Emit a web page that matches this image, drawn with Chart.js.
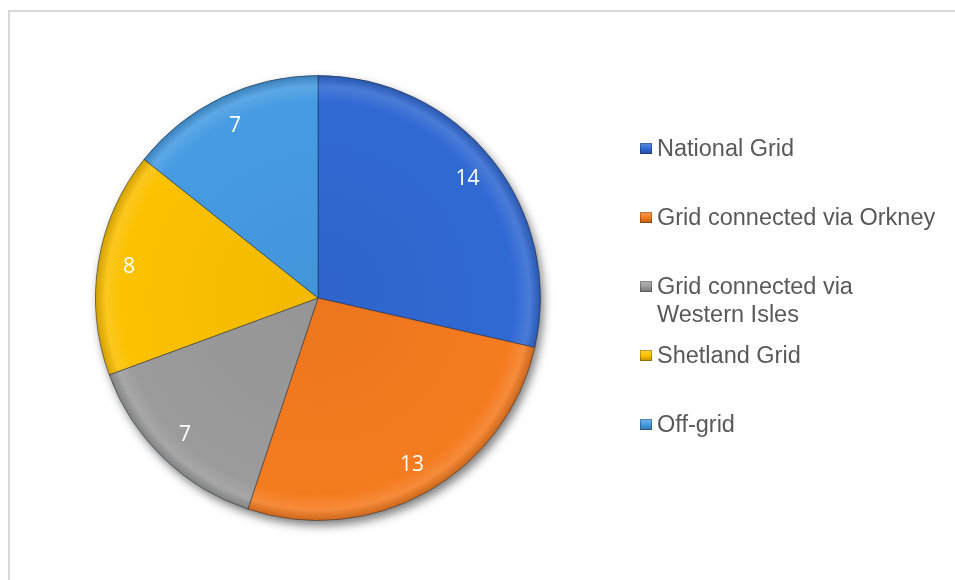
<!DOCTYPE html>
<html>
<head>
<meta charset="utf-8">
<script src="https://cdn.jsdelivr.net/npm/chart.js@4.4.1/dist/chart.umd.min.js"></script>
<style>
  html, body { margin:0; padding:0; background:#fff; }
  #wrap { position:relative; width:955px; height:580px; overflow:hidden; }
  #frame { position:absolute; left:8px; top:10px; width:960px; height:600px;
           border-left:2px solid #d9d9d9; border-top:2px solid #d9d9d9; box-sizing:border-box; }
  #pie { position:absolute; left:0; top:0; }
  #legend { position:absolute; left:640px; top:0; font-family:Arial, "Liberation Sans", Helvetica, sans-serif;
            font-size:23.5px; color:#595959; }
  .leg-item { position:absolute; left:0; display:flex; align-items:flex-start; white-space:nowrap; }
  .leg-mark { width:12px; height:11px; margin-top:9px; margin-right:5px; flex:none;
              box-shadow: inset 0 0 0 1px rgba(0,0,0,0.25); }
  .leg-text { line-height:28px; white-space:normal; width:284px; }
</style>
</head>
<body>
<div id="wrap">
  <div id="frame"></div>
  <canvas id="pie" width="955" height="580"></canvas>
  <div id="legend"></div>
</div>
<script>
/* Grid connection of sites — pie with Excel-like bevel and shadow */

const LABELS = ['National Grid', 'Grid connected via Orkney', 'Grid connected via Western Isles', 'Shetland Grid', 'Off-grid'];
const VALUES = [14, 13, 7, 8, 7];
const COLORS = ['#3169d3', '#f57b1f', '#9b9b9b', '#fcc100', '#469be2'];

function shade(hex, amt){
  const n = parseInt(hex.slice(1), 16);
  let r = (n >> 16) & 255, g = (n >> 8) & 255, b = n & 255;
  const f = v => Math.max(0, Math.min(255, Math.round(amt > 0 ? v + (255 - v) * amt : v * (1 + amt))));
  return `rgb(${f(r)},${f(g)},${f(b)})`;
}

function sliceFill(ctx){
  const chart = ctx.chart;
  const area = chart.chartArea;
  const base = COLORS[ctx.dataIndex];
  if(!area) return base;
  const cx = (area.left + area.right) / 2, cy = (area.top + area.bottom) / 2;
  const r = Math.min(area.right - area.left, area.bottom - area.top) / 2;
  const g = chart.ctx.createRadialGradient(cx, cy, 0, cx, cy, r);
  g.addColorStop(0, shade(base, -0.04));
  g.addColorStop(0.88, base);
  g.addColorStop(0.95, shade(base, 0.12));
  g.addColorStop(1, shade(base, -0.18));
  return g;
}

const shadowPlugin = {
  id:'shadow',
  beforeDatasetsDraw(chart){
    const arc = chart.getDatasetMeta(0).data[0];
    if(!arc) return;
    const {x, y, outerRadius} = arc.getProps(['x','y','outerRadius'], true);
    const c = chart.ctx;
    c.save();
    c.shadowColor = 'rgba(0,0,0,0.5)';
    c.shadowBlur = 10;
    c.shadowOffsetX = 3;
    c.shadowOffsetY = 5;
    c.fillStyle = '#888';
    c.beginPath();
    c.arc(x, y, outerRadius, 0, Math.PI * 2);
    c.fill();
    c.restore();
  }
};

const valueLabels = {
  id:'valueLabels',
  afterDatasetsDraw(chart){
    const c = chart.ctx;
    const meta = chart.getDatasetMeta(0);
    c.save();
    c.fillStyle = '#ffffff';
    c.font = '21px "Open Sans", "Liberation Sans", sans-serif';
    c.textAlign = 'center';
    c.textBaseline = 'middle';
    meta.data.forEach((arc, i) => {
      const p = arc.getProps(['x','y','startAngle','endAngle','outerRadius'], true);
      const mid = (p.startAngle + p.endAngle) / 2;
      const d = p.outerRadius * 0.86;
      c.fillText(String(VALUES[i]), p.x + Math.cos(mid) * d, p.y + Math.sin(mid) * d);
    });
    c.restore();
  }
};

new Chart(document.getElementById('pie'), {
  type:'pie',
  data:{
    labels:LABELS,
    datasets:[{
      data:VALUES,
      backgroundColor:sliceFill,
      borderColor:'rgba(20,30,50,0.45)',
      borderWidth:1
    }]
  },
  options:{
    responsive:false,
    animation:false,
    layout:{padding:{left:95, right:414, top:75, bottom:59}},
    plugins:{legend:{display:false}, tooltip:{enabled:false}}
  },
  plugins:[shadowPlugin, valueLabels]
});

// legend: one item every 69px, Excel style
const legend = document.getElementById('legend');
LABELS.forEach((l, i) => {
  const item = document.createElement('div');
  item.className = 'leg-item';
  item.style.top = (134 + 69 * i) + 'px';
  const base = COLORS[i];
  item.innerHTML = `<span class="leg-mark" style="background:linear-gradient(${shade(base,0.25)}, ${base} 50%, ${shade(base,-0.25)})"></span><span class="leg-text">${l}</span>`;
  legend.appendChild(item);
});
</script>
</body>
</html>
